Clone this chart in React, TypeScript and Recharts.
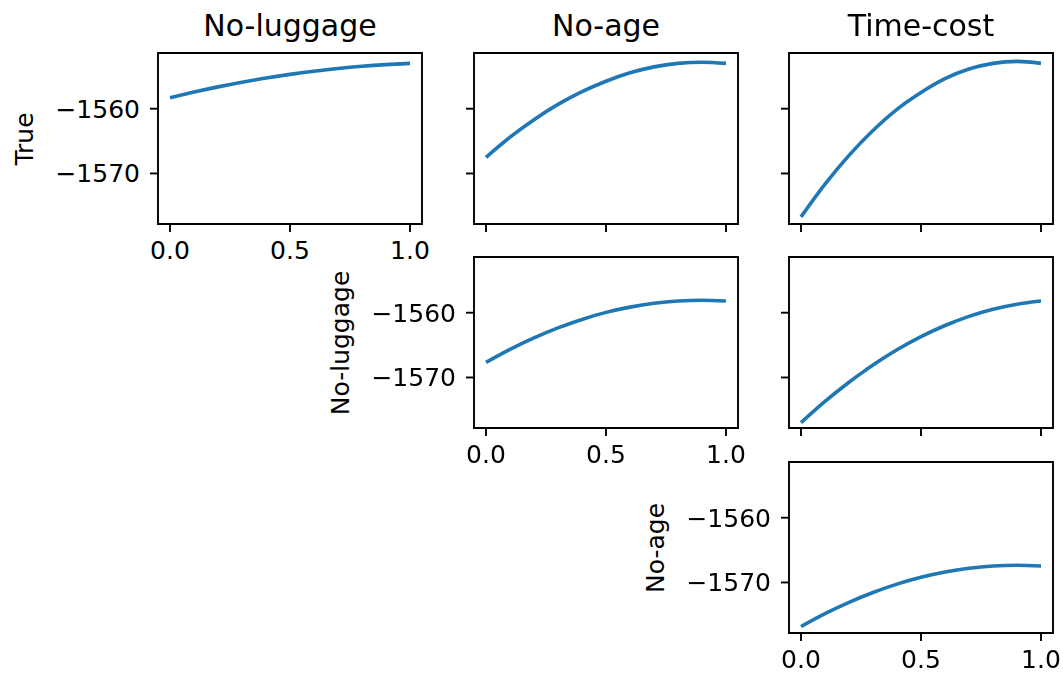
import React from 'react';
import { LineChart, Line, XAxis, YAxis, ReferenceArea } from 'recharts';

// x positions along each interpolation curve
const xs = [0, 0.1, 0.2, 0.3, 0.4, 0.5, 0.6, 0.7, 0.8, 0.9, 1.0];

// curves (log-likelihood)
const trueVsNoLuggage = [-1558.3, -1557.43, -1556.63, -1555.91, -1555.27, -1554.7, -1554.21, -1553.79, -1553.45, -1553.19, -1553.0];
const trueVsNoAge = [-1567.5, -1564.4, -1561.69, -1559.34, -1557.38, -1555.76, -1554.46, -1553.54, -1553.0, -1552.82, -1553.0];
const trueVsTimeCost = [-1576.7, -1571.64, -1567.2, -1563.36, -1560.1, -1557.5, -1555.36, -1553.88, -1553.0, -1552.7, -1553.0];
const noLuggageVsNoAge = [-1567.66, -1565.65, -1563.88, -1562.34, -1561.04, -1559.95, -1559.14, -1558.55, -1558.2, -1558.08, -1558.2];
const noLuggageVsTimeCost = [-1576.97, -1573.69, -1570.73, -1568.08, -1565.73, -1563.7, -1561.98, -1560.57, -1559.47, -1558.68, -1558.2];
const noAgeVsTimeCost = [-1576.8, -1574.81, -1573.06, -1571.54, -1570.25, -1569.2, -1568.38, -1567.8, -1567.45, -1567.33, -1567.45];

const columnTitles = ['No-luggage', 'No-age', 'Time-cost'];
const rowLabels = ['True', 'No-luggage', 'No-age'];
const xTicks = [0, 0.5, 1.0];
const yTicks = [-1570, -1560];

const xDomain = [-0.05, 1.05];
const yDomain = [-1577.8, -1551.4];

const FONT = '"DejaVu Sans", sans-serif';
const colX = [158, 474, 789];
const rowY = [53, 257, 462];
const PW = 264;
const PH = 171;
const YW = 120;
const XH = 50;
const RM = 30;

const panels = [
  { row: 0, col: 0, values: trueVsNoLuggage },
  { row: 0, col: 1, values: trueVsNoAge },
  { row: 0, col: 2, values: trueVsTimeCost },
  { row: 1, col: 1, values: noLuggageVsNoAge },
  { row: 1, col: 2, values: noLuggageVsTimeCost },
  { row: 2, col: 2, values: noAgeVsTimeCost },
];

const minus = (v: number) => String(v).replace('-', '\u2212');
const NoLabel = () => <g />;

const Panel = ({ row, col, values }) => {
  const data = xs.map((x, i) => ({ x, y: values[i] }));
  const showLabels = row === col;
  const tickStyle = { fill: '#000', fontSize: 25, fontFamily: FONT };
  return (
    <div style={{ position: 'absolute', left: colX[col] - YW, top: rowY[row] - 5 }}>
      <LineChart width={YW + PW + RM} height={5 + PH + XH} data={data}
        margin={{ top: 5, right: RM, bottom: 0, left: 0 }}>
        <XAxis dataKey="x" type="number" domain={xDomain} ticks={xTicks} allowDataOverflow
          height={XH} axisLine={false} tickSize={8} tickMargin={9}
          tickLine={{ stroke: '#000', strokeWidth: 1.9 }}
          tick={showLabels ? tickStyle : NoLabel}
          tickFormatter={(v) => v.toFixed(1)} />
        <YAxis type="number" domain={yDomain} ticks={yTicks} allowDataOverflow
          width={YW} axisLine={false} tickSize={8} tickMargin={10}
          tickLine={{ stroke: '#000', strokeWidth: 1.9 }}
          tick={showLabels ? tickStyle : NoLabel}
          tickFormatter={minus} />
        <ReferenceArea x1={xDomain[0]} x2={xDomain[1]} y1={yDomain[0]} y2={yDomain[1]}
          fill="none" stroke="#000" strokeWidth={1.9} />
        <Line dataKey="y" type="monotone" stroke="#1f77b4" strokeWidth={3.6}
          dot={false} isAnimationActive={false} />
      </LineChart>
    </div>
  );
};

export default function App() {
  return (
    <div style={{ position: 'fixed', left: 0, top: 0, width: 1063, height: 677, background: '#fff', fontFamily: FONT }}>
      {columnTitles.map((t, i) => (
        <div key={t} style={{ position: 'absolute', left: colX[i] - 50, width: PW + 100, top: 11,
          fontSize: 30, lineHeight: '30px', textAlign: 'center', color: '#000' }}>{t}</div>
      ))}
      {rowLabels.map((t, i) => (
        <div key={t} style={{ position: 'absolute', left: colX[i] - 133 - 100, top: rowY[i] + PH / 2 - 15,
          width: 200, height: 30, lineHeight: '30px', fontSize: 25, textAlign: 'center',
          transform: 'rotate(-90deg)', color: '#000' }}>{t}</div>
      ))}
      {panels.map((p) => <Panel key={`${p.row}-${p.col}`} {...p} />)}
    </div>
  );
}
